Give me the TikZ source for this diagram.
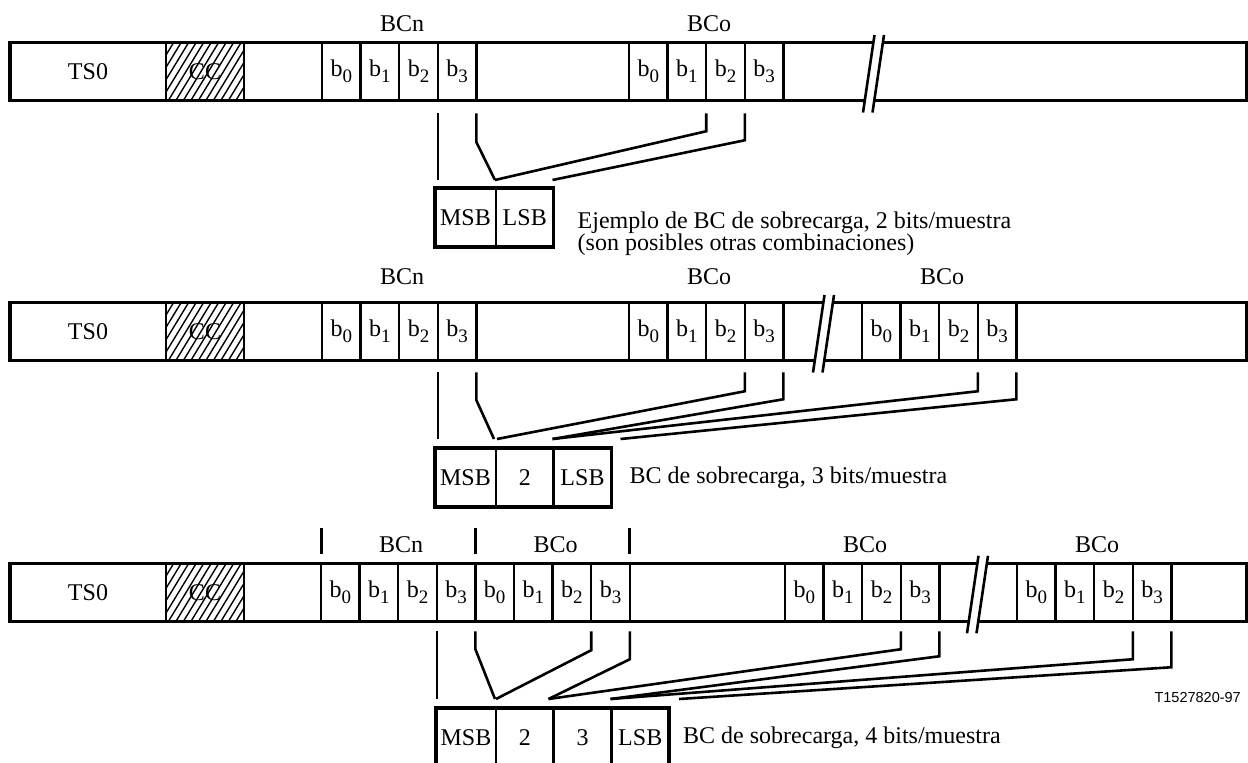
\documentclass[tikz,border=0pt]{standalone}
\usepackage{fontspec}
\setmainfont{Liberation Serif}
\newfontfamily\tagfont{Liberation Sans}
\usetikzlibrary{calc,positioning}
\newcommand\figfont{\fontsize{24}{22}\selectfont}
\newcommand\bsub[1]{b\raisebox{-6pt}{\fontsize{19}{19}\selectfont #1}}
\tikzset{
  slot/.style={draw, line width=2.4pt, minimum height=57.5pt, inner sep=0pt, outer sep=0pt, font=\figfont},
  bitcell/.style={slot, minimum width=38.6pt},
  part/.style={draw, line width=2.6pt, minimum height=59pt, minimum width=57.5pt, inner sep=0pt, outer sep=0pt, font=\figfont},
  frame/.style={line width=3.3pt},
  boxframe/.style={line width=3.6pt},
  wire/.style={line width=2.6pt},
  tick/.style={line width=3pt},
  cutline/.style={line width=2.6pt},
  grp/.style={inner sep=0pt, font=\figfont, xshift=3pt},
  desc/.style={inner sep=0pt, font=\figfont, align=left},
  hatched/.style={path picture={
    \foreach \h in {0,...,15}
      \draw[line width=1.4pt] ($(path picture bounding box.south west)+(\h*7.5-35,0)$) -- ++(35,-57.5);}}
}

\begin{document}
\begin{tikzpicture}[x=1pt,y=-1pt]
\useasboundingbox (0,0) rectangle (1248,763);

% --- 2 bits/muestra
\node[slot, minimum width=156pt] (r1ts) at (88,71.5) {TS0};
\node[slot, hatched, minimum width=78pt] (r1cc) at (205,71.5) {CC};
\foreach \i in {0,...,3} {
  \node[bitcell] (r1n\i) at (341.3+38.6*\i,71.5) {\bsub{\i}};
  \node[bitcell] (r1o\i) at (648.3+38.6*\i,71.5) {\bsub{\i}};
}
\draw[frame] (r1ts.north west) rectangle (1246.5,100.25);
\node[grp, above=11pt of r1n1.north east] (r1bcn) {BCn};
\node[grp, above=11pt of r1o1.north east] (r1bco) {BCo};

\node[part, minimum width=61pt] (r1msb) at (465.5,217.5) {MSB};
\node[part, right=0pt of r1msb] (r1lsb) {LSB};
\draw[boxframe] (r1msb.north west) rectangle (r1lsb.south east);
\node[desc, right=24pt of r1lsb.east, yshift=-16pt] (r1txt) {Ejemplo de BC de sobrecarga, 2 bits/muestra\\(son posibles otras combinaciones)};

\draw[wire] ($(r1n2.south east)+(0,13)$) -- ($(r1n2.south east |- r1msb.north)+(0,-8)$);
\draw[wire] ($(r1n3.south east)+(0,13)$) -- ++(0,29) -- ($(r1msb.north east)+(-1,-8)$);
\draw[wire] ($(r1o1.south east)+(0,13)$) -- ++(0,18) -- ($(r1msb.north east)+(-1,-8)$);
\draw[wire] ($(r1o2.south east)+(0,13)$) -- ++(0,27) -- ($(r1lsb.north east)+(-1,-8)$);

% --- 3 bits/muestra
\node[slot, minimum width=156pt] (r2ts) at (88,331.5) {TS0};
\node[slot, hatched, minimum width=78pt] (r2cc) at (205,331.5) {CC};
\foreach \i in {0,...,3} {
  \node[bitcell] (r2n\i) at (341.3+38.6*\i,331.5) {\bsub{\i}};
  \node[bitcell] (r2o\i) at (648.3+38.6*\i,331.5) {\bsub{\i}};
  \node[bitcell] (r2p\i) at (881.3+38.6*\i,331.5) {\bsub{\i}};
}
\draw[frame] (r2ts.north west) rectangle (1246.5,360.25);
\node[grp, above=18pt of r2n1.north east] (r2bcn) {BCn};
\node[grp, above=18pt of r2o1.north east] (r2bco) {BCo};
\node[grp, above=18pt of r2p1.north east] (r2bcp) {BCo};

\node[part, minimum width=61pt] (r2msb) at (465.5,477.5) {MSB};
\node[part, right=0pt of r2msb] (r2two) {2};
\node[part, right=0pt of r2two, minimum width=58pt] (r2lsb) {LSB};
\draw[boxframe] (r2msb.north west) rectangle (r2lsb.south east);
\node[desc, right=18pt of r2lsb.east] (r2txt) {BC de sobrecarga, 3 bits/muestra};

\draw[wire] ($(r2n2.south east)+(0,12)$) -- ($(r2n2.south east |- r2msb.north)+(0,-9)$);
\draw[wire] ($(r2n3.south east)+(0,12)$) -- ++(0,28) -- ($(r2msb.north east)+(-2,-9)$);
\draw[wire] ($(r2o2.south east)+(0,12)$) -- ++(0,19) -- ($(r2msb.north east)+(1,-9)$);
\draw[wire] ($(r2o3.south east)+(0,12)$) -- ++(0,27) -- ($(r2two.north east)+(-1,-9)$);
\draw[wire] ($(r2p2.south east)+(0,12)$) -- ++(0,19) -- ($(r2two.north east)+(-1,-9)$);
\draw[wire] ($(r2p3.south east)+(0,12)$) -- ++(0,27) -- ($(r2lsb.north east)+(9,-9)$);

% --- 4 bits/muestra
\node[slot, minimum width=156pt] (r3ts) at (88,592.5) {TS0};
\node[slot, hatched, minimum width=78pt] (r3cc) at (205,592.5) {CC};
\foreach \i in {0,...,3} {
  \node[bitcell] (r3n\i) at (340.3+38.6*\i,592.5) {\bsub{\i}};
  \node[bitcell] (r3o\i) at (494.7+38.6*\i,592.5) {\bsub{\i}};
  \node[bitcell] (r3p\i) at (804.3+38.6*\i,592.5) {\bsub{\i}};
  \node[bitcell] (r3q\i) at (1036.3+38.6*\i,592.5) {\bsub{\i}};
}
\draw[frame] (r3ts.north west) rectangle (1246.5,621.25);
\foreach \a in {r3n0.north west, r3o0.north west, r3o3.north east}
  \draw[tick] ($(\a)+(0,-10)$) -- ++(0,-26);
\node[grp, above=11pt of r3n1.north east] (r3bcn) {BCn};
\node[grp, above=11pt of r3o1.north east] (r3bco) {BCo};
\node[grp, above=11pt of r3p1.north east] (r3bcp) {BCo};
\node[grp, above=11pt of r3q1.north east] (r3bcq) {BCo};

\node[part, minimum width=60pt] (r3msb) at (466,737.5) {MSB};
\node[part, right=0pt of r3msb] (r3two) {2};
\node[part, right=0pt of r3two, minimum width=58pt] (r3three) {3};
\node[part, right=0pt of r3three] (r3lsb) {LSB};
\draw[boxframe] (r3msb.north west) rectangle (r3lsb.south east);
\node[desc, right=14pt of r3lsb.east] (r3txt) {BC de sobrecarga, 4 bits/muestra};

\draw[wire] ($(r3n2.south east)+(0,10)$) -- ($(r3n2.south east |- r3msb.north)+(0,-9)$);
\draw[wire] ($(r3n3.south east)+(0,10)$) -- ++(0,18) -- ($(r3msb.north east)+(-1,-9)$);
\draw[wire] ($(r3o2.south east)+(0,10)$) -- ++(0,19) -- ($(r3msb.north east)+(0,-9)$);
\draw[wire] ($(r3o3.south east)+(0,10)$) -- ++(0,28) -- ($(r3two.north east)+(-5,-9)$);
\draw[wire] ($(r3p2.south east)+(0,10)$) -- ++(0,18) -- ($(r3two.north east)+(-5,-9)$);
\draw[wire] ($(r3p3.south east)+(0,10)$) -- ++(0,25) -- ($(r3three.north east)+(-1,-9)$);
\draw[wire] ($(r3q2.south east)+(0,10)$) -- ++(0,28) -- ($(r3three.north east)+(-1,-9)$);
\draw[wire] ($(r3q3.south east)+(0,10)$) -- ++(0,36) -- ($(r3lsb.north east)+(10,-9)$);

\node[font=\tagfont\fontsize{14.5}{14.5}\selectfont, anchor=east, inner sep=0pt] (tag) at (1241,698) {T1527820-97};

% break marks
\foreach \bx/\ty in {863/43, 813/303, 967/563.75} {
  \fill[white] (\bx,\ty+69.5) -- (\bx+11.5,\ty-8) -- (\bx+21,\ty-8) -- (\bx+9.5,\ty+69.5) -- cycle;
  \draw[cutline] (\bx,\ty+69.5) -- ++(11.5,-77.5);
  \draw[cutline] (\bx+9.5,\ty+69.5) -- ++(11.5,-77.5);
}
\end{tikzpicture}
\end{document}
